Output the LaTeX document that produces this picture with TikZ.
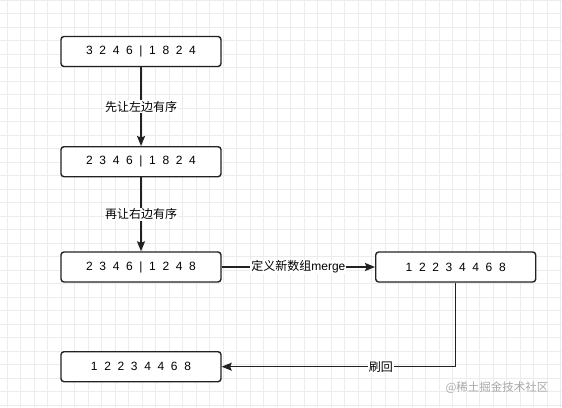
\documentclass[tikz,border=0pt]{standalone}
\usepackage{fontspec}
\setmainfont{Liberation Sans}
\newfontfamily\cjk{Noto Sans CJK SC}
\usetikzlibrary{arrows.meta}
\definecolor{gridc}{HTML}{ECECEC}
\definecolor{linec}{HTML}{222222}
\definecolor{wmark}{HTML}{A8A8A8}
\tikzset{
  box/.style={draw=linec, line width=1.4pt, rounded corners=3pt, minimum width=160pt, minimum height=30pt, inner sep=0pt, font=\fontsize{12}{14}\selectfont, fill=white},
  conn/.style={draw=linec, line width=1.4pt, -{Stealth[length=10pt,width=8pt,inset=1.5pt]}},
  lbl/.style={fill=white, inner sep=1pt, font=\fontsize{12}{14}\selectfont, text=black},
}
\begin{document}
\begin{tikzpicture}[x=1pt,y=-1pt]
\useasboundingbox (0,0) rectangle (562,407);
\fill[white] (0,0) rectangle (562,407);
\foreach \x in {7.2,20.7,...,562} \draw[gridc, line width=0.7pt] (\x,0) -- (\x,407);
\foreach \y in {0.2,13.7,...,407} \draw[gridc, line width=0.7pt] (0,\y) -- (562,\y);

\node[box] (b1) at (141,51.5) {3~~2~~4~~6~~|~~1~~8~~2~~4};
\node[box] (b2) at (141,161.7) {2~~3~~4~~6~~|~~1~~8~~2~~4};
\node[box] (b3) at (141,267) {2~~3~~4~~6~~|~~1~~2~~4~~8};
\node[box] (b4) at (455.7,267) {1~~2~~2~~3~~4~~4~~6~~8};
\node[box] (b5) at (141,366.7) {1~~2~~2~~3~~4~~4~~6~~8};

\draw[conn] (b1) -- node[lbl] {\cjk 先让左边有序} (b2);
\draw[conn] (b2) -- node[lbl] {\cjk 再让右边有序} (b3);
\draw[conn] (b3) -- node[lbl] {{\cjk 定义新数组}merge} (b4);
\draw[conn] (b4.south) |- node[lbl, pos=0.66] {\cjk 刷回} (b5.east);

\node[text=wmark, font=\cjk\fontsize{11.5}{13}\selectfont, anchor=center] (wm) at (497,388) {@稀土掘金技术社区};
\end{tikzpicture}
\end{document}
